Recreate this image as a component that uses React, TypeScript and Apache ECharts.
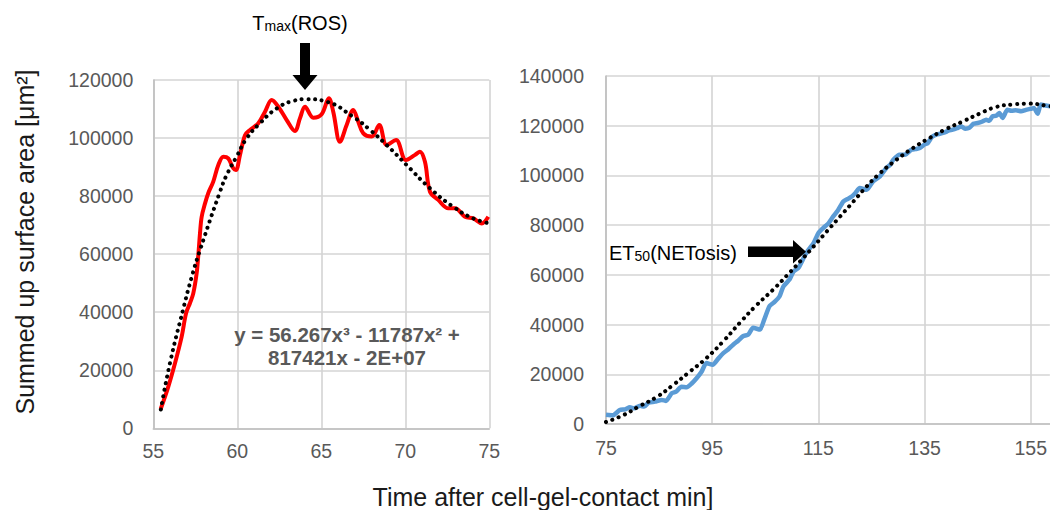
import React, { useEffect, useRef } from "react";
import * as echarts from "echarts";

// ---- Left panel: ROS (red) ----
const leftTime = [55.44, 55.89, 56.29, 56.69, 56.95, 57.18, 57.38, 57.58, 57.68, 57.78, 57.88, 58.08, 58.27, 58.57, 58.87, 59.17, 59.46, 59.76, 59.92, 60.16, 60.46, 60.76, 61.25, 61.65, 62.05, 62.44, 62.94, 63.43, 63.73, 64.03, 64.52, 65.02, 65.45, 65.71, 66.11, 66.51, 66.9, 67.2, 67.5, 68.0, 68.45, 68.89, 69.45, 70.04, 70.58, 70.87, 71.17, 71.47, 71.96, 72.56, 72.96, 73.55, 74.05, 74.55, 74.94];
const leftArea = [6650, 14300, 22400, 31600, 39600, 43100, 46500, 53400, 59700, 67200, 72900, 77500, 81000, 85000, 90700, 93600, 93000, 89600, 89000, 94200, 101000, 102800, 105100, 109100, 113100, 110800, 106200, 102400, 106800, 110800, 107000, 108200, 113700, 109100, 98700, 104500, 109700, 105600, 101600, 100500, 104500, 97600, 99300, 92400, 94200, 95300, 91800, 81500, 78700, 75800, 75800, 72900, 72300, 70600, 72900];
const leftTrendTime = [55.45, 55.99, 56.79, 57.29, 57.78, 58.97, 59.37, 59.96, 60.56, 61.35, 62.35, 63.33, 64.13, 65.32, 66.9, 67.9, 68.89, 70.08, 71.47, 72.86, 74.05, 75.04];
const leftTrendArea = [6500, 22400, 41300, 52200, 61400, 81500, 87300, 93600, 99900, 105100, 110200, 112800, 113400, 112500, 107300, 102800, 97600, 90700, 82700, 76300, 72300, 70600];

// ---- Right panel: NETosis (blue) ----
const rightTime = [75, 76.3, 77.6, 78.6, 79.5, 80.3, 81.4, 82.2, 83.0, 84.2, 85.5, 86.3, 87.4, 88.2, 89.2, 90.2, 91.1, 92.1, 93.0, 93.9, 95.1, 96.1, 97.1, 98.0, 99.0, 99.9, 100.8, 101.8, 102.7, 104.0, 104.8, 105.8, 106.8, 107.7, 108.4, 109.6, 110.3, 111.3, 112.5, 113.3, 114.1, 115.0, 115.9, 116.8, 117.8, 118.7, 119.7, 120.5, 121.3, 122.0, 122.8, 124.1, 125.3, 126.6, 127.8, 128.5, 129.1, 130.3, 131.3, 132.5, 133.3, 134.1, 135.0, 135.6, 136.4, 137.2, 138.0, 138.8, 139.5, 140.3, 141.1, 141.9, 142.7, 143.4, 144.2, 145.0, 145.8, 146.6, 147.2, 147.8, 148.5, 149.1, 149.7, 150.6, 151.4, 152.2, 153.2, 154.1, 155.0, 155.6, 156.3, 156.9, 157.8, 158.7];
const rightArea = [3700, 3500, 5600, 5900, 6700, 6300, 7300, 7000, 8600, 9000, 9700, 9300, 12400, 13000, 15000, 14800, 16200, 18500, 21000, 24500, 23800, 26200, 28500, 30000, 32000, 33500, 35300, 36000, 38700, 38000, 42000, 47400, 49200, 51400, 55300, 58200, 61300, 63000, 68000, 70500, 72800, 76800, 78800, 80500, 83500, 86000, 89500, 90500, 91500, 93000, 94900, 94200, 97600, 99600, 103000, 104200, 106300, 108300, 108300, 110300, 110600, 111000, 112500, 113000, 115500, 116400, 116800, 117300, 118000, 118400, 119000, 119700, 118800, 119100, 120800, 121100, 121600, 122400, 122000, 123800, 124000, 125100, 123100, 126400, 126000, 126200, 125800, 126400, 126800, 127100, 124800, 128500, 128100, 127800];
const rightTrendTime = [75, 78.3, 81.4, 84.5, 87.7, 90.8, 93.9, 97.1, 100.2, 103.3, 106.5, 109.1, 111.6, 114.1, 116.6, 119.1, 121.6, 124.1, 126.6, 129.7, 132.8, 135.9, 139.1, 142.2, 145.3, 148.4, 151.6, 154.7, 157.8, 159.5];
const rightTrendArea = [800, 3600, 7300, 10800, 15800, 21100, 26500, 33300, 40700, 47700, 54100, 59800, 65500, 71400, 77500, 83500, 89500, 95600, 100900, 106300, 111000, 115000, 118700, 121700, 124800, 127500, 128500, 128900, 128100, 127500];

// ---- Texts ----
const yTitle = "Summed up surface area [μm²]";
const xTitle = "Time after cell-gel-contact min]";
const equationLines = ["y = 56.267x³ - 11787x² +", "817421x - 2E+07"];

const FONT = '"Liberation Sans", Arial, Helvetica, sans-serif';
const zip = (a: number[], b: number[]) => a.map((v, i) => [v, b[i]]);

export default function App() {
  const ref = useRef<HTMLDivElement>(null);
  useEffect(() => {
    if (!ref.current) return;
    const chart = echarts.init(ref.current, undefined, { renderer: "svg" });
    const mkLabel = (margin: number, extra: any = {}) => ({
      color: "#595959", fontSize: 19.5, fontFamily: FONT, margin,
      formatter: (v: number) => String(v), ...extra,
    });
    const axisLine = () => ({ show: true, lineStyle: { color: "#bfbfbf", width: 1.6 } });
    const split = (extra: any = {}) => ({ show: true, lineStyle: { color: "#d4d4d4", width: 1.6 }, ...extra });
    const dotted = () => ({ color: "#000", width: 4, type: [0.1, 6.6] as any, cap: "round" as any });
    chart.setOption({
      animation: false,
      grid: [
        { left: 153.3, right: 560.7, top: 80, bottom: 81.7 },
        { left: 606, right: 0, top: 76, bottom: 86 },
      ],
      xAxis: [
        {
          gridIndex: 0, type: "value", min: 55, max: 75, interval: 5,
          axisLine: axisLine(), splitLine: split(), axisTick: { show: false },
          axisLabel: mkLabel(13),
        },
        {
          gridIndex: 1, type: "value", min: 75, max: 158.6, interval: 20,
          axisLine: axisLine(), splitLine: split({ showMaxLine: false }), axisTick: { show: false },
          axisLabel: mkLabel(14, { showMaxLabel: false }),
        },
      ],
      yAxis: [
        {
          gridIndex: 0, type: "value", min: 0, max: 120000, interval: 20000,
          axisLine: axisLine(), splitLine: split(), axisTick: { show: false },
          axisLabel: mkLabel(20),
        },
        {
          gridIndex: 1, type: "value", min: 0, max: 140000, interval: 20000,
          axisLine: axisLine(), splitLine: split(), axisTick: { show: false },
          axisLabel: mkLabel(22),
        },
      ],
      series: [
        {
          type: "line", xAxisIndex: 0, yAxisIndex: 0, data: zip(leftTime, leftArea),
          showSymbol: false, smooth: 0.35, lineStyle: { color: "#ff0000", width: 4 },
        },
        {
          type: "line", xAxisIndex: 0, yAxisIndex: 0, data: zip(leftTrendTime, leftTrendArea),
          showSymbol: false, smooth: true, lineStyle: dotted(), z: 3,
        },
        {
          type: "line", xAxisIndex: 1, yAxisIndex: 1, data: zip(rightTime, rightArea),
          showSymbol: false, smooth: 0.2, lineStyle: { color: "#5b9bd5", width: 4.5 },
        },
        {
          type: "line", xAxisIndex: 1, yAxisIndex: 1, data: zip(rightTrendTime, rightTrendArea),
          showSymbol: false, smooth: true, lineStyle: dotted(), z: 3,
        },
      ],
      graphic: [
        {
          type: "text", x: 300, y: 22, z: 10,
          style: {
            text: "{a|T}{b|max}{a|(ROS)}",
            align: "center", verticalAlign: "middle",
            rich: {
              a: { fontSize: 20, fontFamily: FONT, fill: "#000", lineHeight: 22, verticalAlign: "bottom" },
              b: { fontSize: 14, fontFamily: FONT, fill: "#000", lineHeight: 16, verticalAlign: "bottom" },
            },
          },
        },
        {
          type: "polygon", z: 10,
          shape: { points: [[300, 43], [310, 43], [310, 75], [317.5, 75], [305, 90], [292.5, 75], [300, 75]] },
          style: { fill: "#000" },
        },
        {
          type: "text", x: 347, y: 334, z: 10,
          style: {
            text: equationLines[0], fill: "#595959", fontSize: 20.5, fontWeight: "bold", fontFamily: FONT,
            align: "center", verticalAlign: "middle",
          },
        },
        {
          type: "text", x: 347, y: 357.5, z: 10,
          style: {
            text: equationLines[1], fill: "#595959", fontSize: 20.5, fontWeight: "bold", fontFamily: FONT,
            align: "center", verticalAlign: "middle",
          },
        },
        {
          type: "text", x: 609, y: 252, z: 10,
          style: {
            text: "{a|ET}{b|50}{a|(NETosis)}",
            align: "left", verticalAlign: "middle",
            rich: {
              a: { fontSize: 20, fontFamily: FONT, fill: "#000", lineHeight: 22, verticalAlign: "bottom" },
              b: { fontSize: 14, fontFamily: FONT, fill: "#000", lineHeight: 14, verticalAlign: "bottom" },
            },
          },
        },
        {
          type: "polygon", z: 10,
          shape: { points: [[748, 246.5], [793, 246.5], [793, 240], [806, 251.7], [793, 263.5], [793, 257], [748, 257]] },
          style: { fill: "#000" },
        },
        {
          type: "text", x: 25, y: 242, rotation: Math.PI / 2, z: 10,
          style: {
            text: yTitle, fill: "#1a1a1a", fontSize: 25, fontFamily: FONT,
            align: "center", verticalAlign: "middle",
          },
        },
        {
          type: "text", x: 543, y: 497, z: 10,
          style: {
            text: xTitle, fill: "#1a1a1a", fontSize: 25, fontFamily: FONT,
            align: "center", verticalAlign: "middle",
          },
        },
      ],
    });
    return () => chart.dispose();
  }, []);
  return (
    <div
      ref={ref}
      style={{ position: "absolute", left: 0, top: 0, width: 1050, height: 510 }}
    />
  );
}
